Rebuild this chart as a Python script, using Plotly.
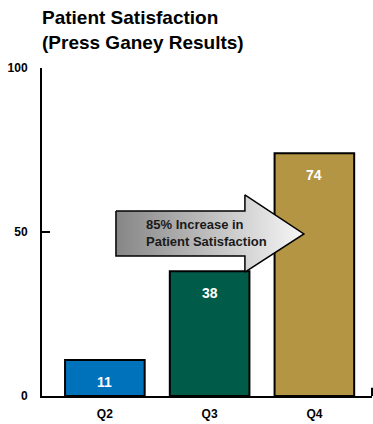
import plotly.graph_objects as go

quarters = ["Q2", "Q3", "Q4"]
scores = [11, 38, 74]
bar_colors = ["#0072BC", "#005C48", "#B39543"]
y_ticks = [0, 50, 100]
title_text = "Patient Satisfaction<br>(Press Ganey Results)"
arrow_text = "85% Increase in<br>Patient Satisfaction"

xpos = list(range(len(quarters)))
FONT = "Liberation Sans, Arial, Helvetica, sans-serif"

fig = go.Figure()
fig.add_trace(go.Bar(
    x=xpos, y=scores, width=0.76,
    marker=dict(color=bar_colors, line=dict(color="black", width=2)),
    hoverinfo="skip", showlegend=False,
))

# gradient arrow (annotation graphic)
ax = [0.106, 1.337, 1.337, 1.90, 1.337, 1.337, 0.106, 0.106]
ay = [56.4, 56.4, 61.3, 49.4, 37.8, 42.7, 42.7, 56.4]
fig.add_trace(go.Scatter(
    x=ax, y=ay, mode="lines", fill="toself",
    line=dict(color="black", width=1.5),
    fillgradient=dict(type="horizontal", colorscale=[[0, "#868686"], [1, "#f7f7f7"]]),
    hoverinfo="skip", showlegend=False,
))

fig.add_annotation(x=0.37, y=49.8, xref="x", yref="y", text="<b>" + arrow_text + "</b>",
                   showarrow=False, xanchor="left", align="left",
                   font=dict(family=FONT, size=13, color="#1a1a1a"))

for xi, v in zip(xpos, scores):
    fig.add_annotation(x=xi, y=v, xref="x", yref="y", text="<b>%d</b>" % v,
                       showarrow=False, yshift=-22,
                       font=dict(family=FONT, size=14, color="white"))

# title
fig.add_annotation(x=0, y=1, xref="paper", yref="paper", xanchor="left", yanchor="bottom",
                   yshift=13, xshift=-2, align="left", showarrow=False,
                   text="<b>" + title_text + "</b>",
                   font=dict(family=FONT, size=19, color="black"))

# small tick at right end of x-axis
fig.add_shape(type="line", xref="paper", yref="y", x0=1, x1=1, y0=0, y1=2.5,
              line=dict(color="black", width=2))

fig.update_layout(
    width=373, height=424,
    margin=dict(l=42, r=1, t=68, b=28),
    paper_bgcolor="white", plot_bgcolor="white",
    font=dict(family=FONT, color="black"),
    xaxis=dict(range=[-0.6, 2.55], tickvals=xpos, ticktext=["<b>%s</b>" % q for q in quarters],
               showgrid=False, zeroline=False, showline=True, linecolor="black", linewidth=2,
               ticks="", tickfont=dict(size=12, color="black"), ticklabelstandoff=6,
               fixedrange=True),
    yaxis=dict(range=[0, 100], tickvals=y_ticks, ticktext=["<b>%d</b>" % t for t in y_ticks],
               showgrid=False, zeroline=False, showline=True, linecolor="black", linewidth=2,
               ticks="inside", ticklen=8, tickwidth=2, tickcolor="black",
               tickfont=dict(size=12, color="black"), ticklabelstandoff=10,
               fixedrange=True),
)

fig.write_html("out.html", config={"displayModeBar": False})
